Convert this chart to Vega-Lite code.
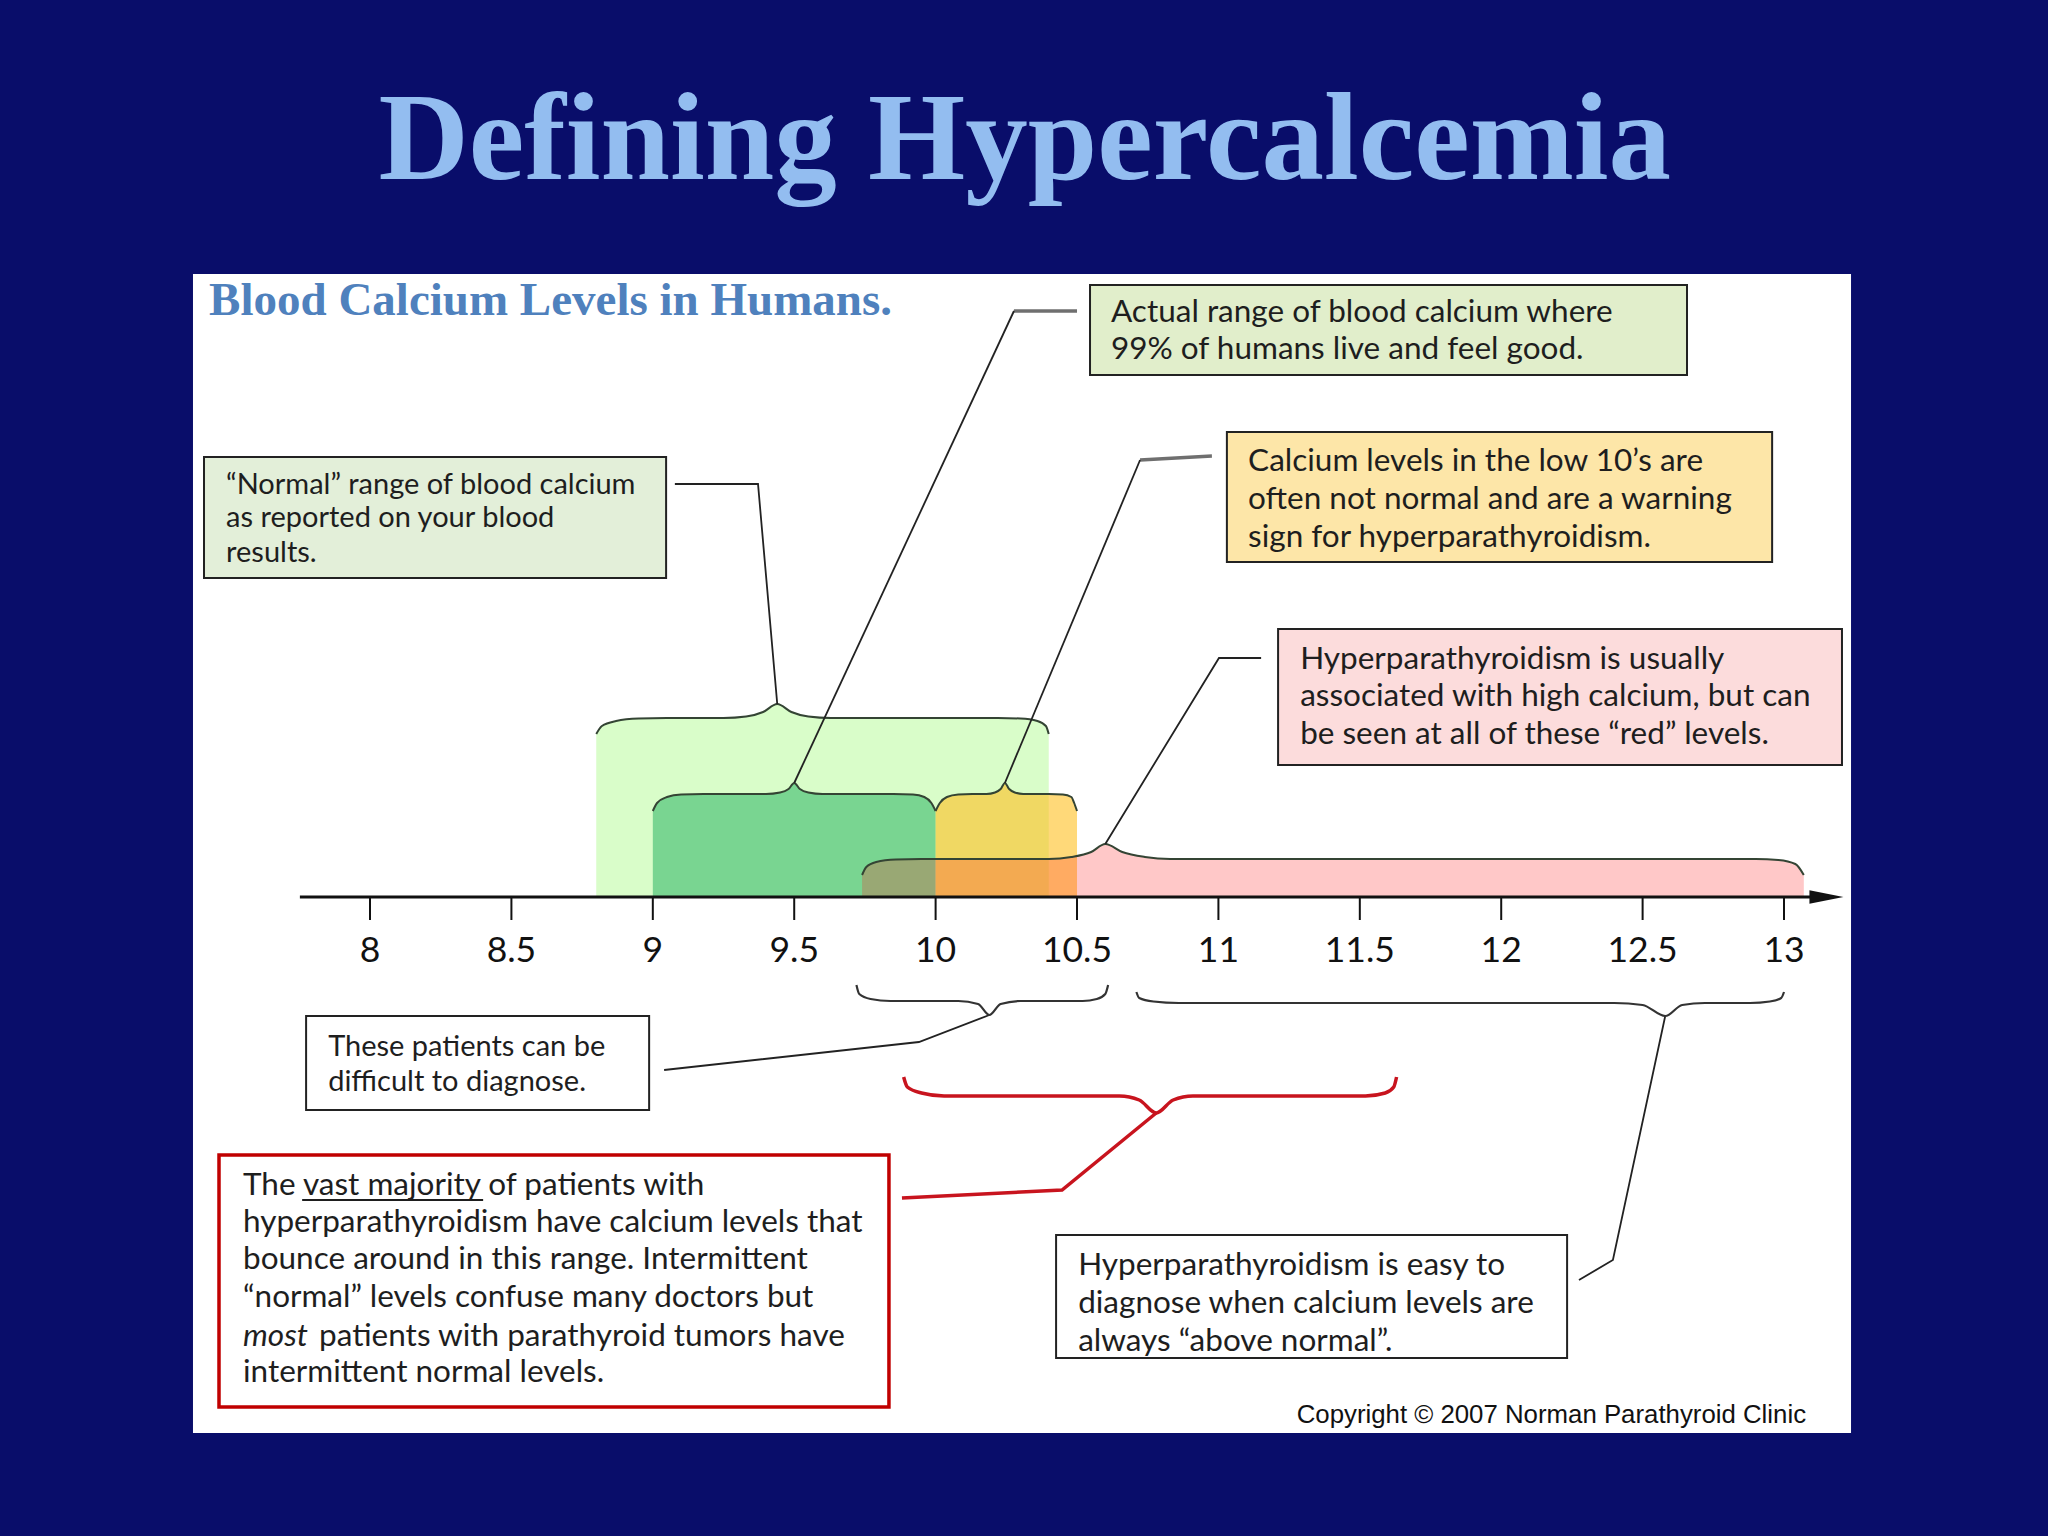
{
  "$schema": "https://vega.github.io/schema/vega-lite/v6.json",
  "width": 2048,
  "height": 1536,
  "padding": 0,
  "autosize": {"type": "none"},
  "background": "#090d6a",
  "config": {"view": {"stroke": null}, "font": "Lato"},
  "datasets": {
    "bands": [
      {"band": "LG", "v": 8.80, "u": 16.3}, {"band": "LG", "v": 8.82, "u": 17.1}, {"band": "LG", "v": 8.87, "u": 17.6}, {"band": "LG", "v": 8.95, "u": 17.85}, {"band": "LG", "v": 9.05, "u": 17.9}, {"band": "LG", "v": 9.25, "u": 17.9}, {"band": "LG", "v": 9.33, "u": 18.05}, {"band": "LG", "v": 9.39, "u": 18.5}, {"band": "LG", "v": 9.44, "u": 19.3}, {"band": "LG", "v": 9.49, "u": 18.5}, {"band": "LG", "v": 9.55, "u": 18.05}, {"band": "LG", "v": 9.63, "u": 17.9}, {"band": "LG", "v": 10.22, "u": 17.9}, {"band": "LG", "v": 10.30, "u": 17.85}, {"band": "LG", "v": 10.36, "u": 17.6}, {"band": "LG", "v": 10.39, "u": 17.1}, {"band": "LG", "v": 10.40, "u": 16.3},
      {"band": "DG", "v": 9.00, "u": 8.6}, {"band": "DG", "v": 9.015, "u": 9.4}, {"band": "DG", "v": 9.05, "u": 10.0}, {"band": "DG", "v": 9.10, "u": 10.25}, {"band": "DG", "v": 9.18, "u": 10.3}, {"band": "DG", "v": 9.40, "u": 10.3}, {"band": "DG", "v": 9.45, "u": 10.45}, {"band": "DG", "v": 9.48, "u": 10.8}, {"band": "DG", "v": 9.50, "u": 11.4}, {"band": "DG", "v": 9.52, "u": 10.8}, {"band": "DG", "v": 9.55, "u": 10.45}, {"band": "DG", "v": 9.60, "u": 10.3}, {"band": "DG", "v": 9.85, "u": 10.3}, {"band": "DG", "v": 9.92, "u": 10.25}, {"band": "DG", "v": 9.96, "u": 10.0}, {"band": "DG", "v": 9.985, "u": 9.4}, {"band": "DG", "v": 10.00, "u": 8.6},
      {"band": "Y", "v": 10.00, "u": 8.6}, {"band": "Y", "v": 10.015, "u": 9.4}, {"band": "Y", "v": 10.04, "u": 10.0}, {"band": "Y", "v": 10.08, "u": 10.25}, {"band": "Y", "v": 10.13, "u": 10.3}, {"band": "Y", "v": 10.18, "u": 10.3}, {"band": "Y", "v": 10.21, "u": 10.45}, {"band": "Y", "v": 10.23, "u": 10.8}, {"band": "Y", "v": 10.245, "u": 11.4}, {"band": "Y", "v": 10.26, "u": 10.8}, {"band": "Y", "v": 10.28, "u": 10.45}, {"band": "Y", "v": 10.31, "u": 10.3}, {"band": "Y", "v": 10.40, "u": 10.3}, {"band": "Y", "v": 10.45, "u": 10.25}, {"band": "Y", "v": 10.48, "u": 10.0}, {"band": "Y", "v": 10.49, "u": 9.4}, {"band": "Y", "v": 10.50, "u": 8.6},
      {"band": "P", "v": 9.74, "u": 2.2}, {"band": "P", "v": 9.755, "u": 3.0}, {"band": "P", "v": 9.79, "u": 3.5}, {"band": "P", "v": 9.86, "u": 3.75}, {"band": "P", "v": 9.95, "u": 3.8}, {"band": "P", "v": 10.40, "u": 3.8}, {"band": "P", "v": 10.48, "u": 4.0}, {"band": "P", "v": 10.55, "u": 4.5}, {"band": "P", "v": 10.60, "u": 5.3}, {"band": "P", "v": 10.66, "u": 4.5}, {"band": "P", "v": 10.74, "u": 4.0}, {"band": "P", "v": 10.83, "u": 3.8}, {"band": "P", "v": 12.90, "u": 3.8}, {"band": "P", "v": 12.98, "u": 3.7}, {"band": "P", "v": 13.04, "u": 3.3}, {"band": "P", "v": 13.07, "u": 2.2}
    ],
    "paths": [
      {"path": "L1", "kind": "leader", "i": 1, "v": 9.078, "u": 41.3}, {"path": "L1", "kind": "leader", "i": 2, "v": 9.372, "u": 41.3}, {"path": "L1", "kind": "leader", "i": 3, "v": 9.44, "u": 19.3},
      {"path": "L2", "kind": "leader", "i": 1, "v": 10.277, "u": 58.6}, {"path": "L2", "kind": "leader", "i": 2, "v": 9.50, "u": 11.4},
      {"path": "S2", "kind": "stub", "i": 1, "v": 10.50, "u": 58.6}, {"path": "S2", "kind": "stub", "i": 2, "v": 10.277, "u": 58.6},
      {"path": "L3", "kind": "leader", "i": 1, "v": 10.723, "u": 43.7}, {"path": "L3", "kind": "leader", "i": 2, "v": 10.245, "u": 11.4},
      {"path": "S3", "kind": "stub", "i": 1, "v": 10.977, "u": 44.1}, {"path": "S3", "kind": "stub", "i": 2, "v": 10.723, "u": 43.7},
      {"path": "L4", "kind": "leader", "i": 1, "v": 11.151, "u": 23.9}, {"path": "L4", "kind": "leader", "i": 2, "v": 11.002, "u": 23.9}, {"path": "L4", "kind": "leader", "i": 3, "v": 10.60, "u": 5.3},
      {"path": "L5", "kind": "leader", "i": 1, "v": 10.19, "u": -11.8}, {"path": "L5", "kind": "leader", "i": 2, "v": 9.941, "u": -14.5}, {"path": "L5", "kind": "leader", "i": 3, "v": 9.040, "u": -17.3},
      {"path": "L6", "kind": "leader", "i": 1, "v": 12.58, "u": -11.9}, {"path": "L6", "kind": "leader", "i": 2, "v": 12.395, "u": -36.3}, {"path": "L6", "kind": "leader", "i": 3, "v": 12.275, "u": -38.3},
      {"path": "B1", "kind": "bracket", "i": 1, "v": 9.72, "u": -8.8}, {"path": "B1", "kind": "bracket", "i": 2, "v": 9.73, "u": -9.7}, {"path": "B1", "kind": "bracket", "i": 3, "v": 9.77, "u": -10.2}, {"path": "B1", "kind": "bracket", "i": 4, "v": 9.84, "u": -10.4}, {"path": "B1", "kind": "bracket", "i": 5, "v": 10.08, "u": -10.4}, {"path": "B1", "kind": "bracket", "i": 6, "v": 10.15, "u": -10.7}, {"path": "B1", "kind": "bracket", "i": 7, "v": 10.19, "u": -11.8}, {"path": "B1", "kind": "bracket", "i": 8, "v": 10.23, "u": -10.7}, {"path": "B1", "kind": "bracket", "i": 9, "v": 10.30, "u": -10.4}, {"path": "B1", "kind": "bracket", "i": 10, "v": 10.52, "u": -10.4}, {"path": "B1", "kind": "bracket", "i": 11, "v": 10.57, "u": -10.2}, {"path": "B1", "kind": "bracket", "i": 12, "v": 10.60, "u": -9.7}, {"path": "B1", "kind": "bracket", "i": 13, "v": 10.61, "u": -8.8},
      {"path": "B2", "kind": "bracket", "i": 1, "v": 10.71, "u": -9.5}, {"path": "B2", "kind": "bracket", "i": 2, "v": 10.72, "u": -10.1}, {"path": "B2", "kind": "bracket", "i": 3, "v": 10.77, "u": -10.45}, {"path": "B2", "kind": "bracket", "i": 4, "v": 10.86, "u": -10.6}, {"path": "B2", "kind": "bracket", "i": 5, "v": 12.40, "u": -10.6}, {"path": "B2", "kind": "bracket", "i": 6, "v": 12.50, "u": -10.8}, {"path": "B2", "kind": "bracket", "i": 7, "v": 12.58, "u": -11.9}, {"path": "B2", "kind": "bracket", "i": 8, "v": 12.64, "u": -10.8}, {"path": "B2", "kind": "bracket", "i": 9, "v": 12.72, "u": -10.6}, {"path": "B2", "kind": "bracket", "i": 10, "v": 12.88, "u": -10.6}, {"path": "B2", "kind": "bracket", "i": 11, "v": 12.95, "u": -10.45}, {"path": "B2", "kind": "bracket", "i": 12, "v": 12.99, "u": -10.1}, {"path": "B2", "kind": "bracket", "i": 13, "v": 13.00, "u": -9.5},
      {"path": "R1", "kind": "redbracket", "i": 1, "v": 9.887, "u": -18.0}, {"path": "R1", "kind": "redbracket", "i": 2, "v": 9.90, "u": -19.0}, {"path": "R1", "kind": "redbracket", "i": 3, "v": 9.95, "u": -19.6}, {"path": "R1", "kind": "redbracket", "i": 4, "v": 10.03, "u": -19.9}, {"path": "R1", "kind": "redbracket", "i": 5, "v": 10.65, "u": -19.9}, {"path": "R1", "kind": "redbracket", "i": 6, "v": 10.72, "u": -20.3}, {"path": "R1", "kind": "redbracket", "i": 7, "v": 10.78, "u": -21.6}, {"path": "R1", "kind": "redbracket", "i": 8, "v": 10.84, "u": -20.3}, {"path": "R1", "kind": "redbracket", "i": 9, "v": 10.91, "u": -19.9}, {"path": "R1", "kind": "redbracket", "i": 10, "v": 11.52, "u": -19.9}, {"path": "R1", "kind": "redbracket", "i": 11, "v": 11.59, "u": -19.6}, {"path": "R1", "kind": "redbracket", "i": 12, "v": 11.62, "u": -19.0}, {"path": "R1", "kind": "redbracket", "i": 13, "v": 11.63, "u": -18.0},
      {"path": "R2", "kind": "redleader", "i": 1, "v": 10.78, "u": -21.6}, {"path": "R2", "kind": "redleader", "i": 2, "v": 10.447, "u": -29.3}, {"path": "R2", "kind": "redleader", "i": 3, "v": 9.881, "u": -30.1}
    ],
    "boxes": [
      {"box": "A", "v": 10.546, "v2": 12.657, "u": 61.2, "u2": 52.2},
      {"box": "B", "v": 11.030, "v2": 12.958, "u": 46.5, "u2": 33.5},
      {"box": "C", "v": 7.413, "v2": 9.047, "u": 44.0, "u2": 31.9},
      {"box": "D", "v": 11.211, "v2": 13.205, "u": 26.8, "u2": 13.2},
      {"box": "E", "v": 7.774, "v2": 8.987, "u": -11.9, "u2": -21.3},
      {"box": "G", "v": 10.426, "v2": 12.233, "u": -33.8, "u2": -46.1}
    ],
    "lines": [
      {"box": "A", "text": "Actual range of blood calcium where", "v": 10.620, "u": 58.4},
      {"box": "A", "text": "99% of humans live and feel good.", "v": 10.620, "u": 54.7},
      {"box": "B", "text": "Calcium levels in the low 10’s are", "v": 11.105, "u": 43.5},
      {"box": "B", "text": "often not normal and are a warning", "v": 11.105, "u": 39.7},
      {"box": "B", "text": "sign for hyperparathyroidism.", "v": 11.105, "u": 35.9},
      {"box": "C", "text": "“Normal” range of blood calcium", "v": 7.491, "u": 41.2},
      {"box": "C", "text": "as reported on your blood", "v": 7.491, "u": 37.9},
      {"box": "C", "text": "results.", "v": 7.491, "u": 34.4},
      {"box": "D", "text": "Hyperparathyroidism is usually", "v": 11.289, "u": 23.7},
      {"box": "D", "text": "associated with high calcium, but can", "v": 11.289, "u": 20.0},
      {"box": "D", "text": "be seen at all of these “red” levels.", "v": 11.289, "u": 16.2},
      {"box": "E", "text": "These patients can be", "v": 7.852, "u": -15.0},
      {"box": "E", "text": "difficult to diagnose.", "v": 7.852, "u": -18.5},
      {"box": "F", "text": "The vast majority of patients with", "v": 7.551, "u": -28.9},
      {"box": "F", "text": "hyperparathyroidism have calcium levels that", "v": 7.551, "u": -32.6},
      {"box": "F", "text": "bounce around in this range. Intermittent", "v": 7.551, "u": -36.3},
      {"box": "F", "text": "“normal” levels confuse many doctors but", "v": 7.551, "u": -40.1},
      {"box": "F", "text": "patients with parathyroid tumors have", "v": 7.820, "u": -44.0},
      {"box": "F", "text": "intermittent normal levels.", "v": 7.551, "u": -47.6},
      {"box": "G", "text": "Hyperparathyroidism is easy to", "v": 10.504, "u": -36.9},
      {"box": "G", "text": "diagnose when calcium levels are", "v": 10.504, "u": -40.7},
      {"box": "G", "text": "always “above normal”.", "v": 10.504, "u": -44.5}
    ],
    "ticks": [
      {"v": 8, "label": "8"}, {"v": 8.5, "label": "8.5"}, {"v": 9, "label": "9"}, {"v": 9.5, "label": "9.5"},
      {"v": 10, "label": "10"}, {"v": 10.5, "label": "10.5"}, {"v": 11, "label": "11"}, {"v": 11.5, "label": "11.5"},
      {"v": 12, "label": "12"}, {"v": 12.5, "label": "12.5"}, {"v": 13, "label": "13"}
    ]
  },
  "encoding": {
    "x": {"field": "v", "type": "quantitative", "scale": {"domain": [6.6916, 13.9335], "nice": false, "zero": false}, "axis": null}
  },
  "layer": [
    {
      "data": {"values": [{"v": 7.374, "v2": 13.237, "u": 62.3, "u2": -53.6}]},
      "mark": {"type": "rect", "color": "#ffffff"},
      "encoding": {
        "y": {"field": "u", "type": "quantitative", "scale": {"domain": [-63.9, 89.7], "nice": false, "zero": false}, "axis": null},
        "x2": {"field": "v2"}, "y2": {"field": "u2"}
      }
    },
    {
      "data": {"values": [{"text": "Defining Hypercalcemia", "v": 10.315, "u": 71.8}]},
      "mark": {"type": "text", "font": "Liberation Serif", "fontWeight": "bold", "fontSize": 125, "color": "#93bdf0", "align": "center", "baseline": "alphabetic"},
      "encoding": {
        "y": {"field": "u", "type": "quantitative", "scale": {"domain": [-63.9, 89.7], "nice": false, "zero": false}, "axis": null},
        "text": {"field": "text"}
      }
    },
    {
      "data": {"values": [{"text": "Blood Calcium Levels in Humans.", "v": 7.431, "u": 58.2}]},
      "mark": {"type": "text", "font": "Liberation Serif", "fontWeight": "bold", "fontSize": 47, "color": "#4f81bd", "align": "left", "baseline": "alphabetic"},
      "encoding": {
        "y": {"field": "u", "type": "quantitative", "scale": {"domain": [-63.9, 89.7], "nice": false, "zero": false}, "axis": null},
        "text": {"field": "text"}
      }
    },
    {
      "data": {"name": "boxes"},
      "mark": {"type": "rect", "stroke": "#222222", "strokeWidth": 2},
      "encoding": {
        "y": {"field": "u", "type": "quantitative", "scale": {"domain": [-63.9, 89.7], "nice": false, "zero": false}, "axis": null},
        "x2": {"field": "v2"}, "y2": {"field": "u2"},
        "fill": {"field": "box", "type": "nominal", "legend": null, "scale": {"domain": ["A", "B", "C", "D", "E", "G"], "range": ["#e1eecb", "#fde6a8", "#e3efd9", "#fcdcdc", "#ffffff", "#ffffff"]}}
      }
    },
    {
      "data": {"values": [{"v": 7.466, "v2": 9.835, "u": -25.8, "u2": -51.0}]},
      "mark": {"type": "rect", "fill": "#ffffff", "stroke": "#c00000", "strokeWidth": 3.5},
      "encoding": {
        "y": {"field": "u", "type": "quantitative", "scale": {"domain": [-63.9, 89.7], "nice": false, "zero": false}, "axis": null},
        "x2": {"field": "v2"}, "y2": {"field": "u2"}
      }
    },
    {
      "data": {"name": "lines"},
      "transform": [{"filter": "datum.box !== 'C' && datum.box !== 'E'"}],
      "mark": {"type": "text", "font": "Lato", "fontSize": 31.5, "color": "#1e1e1e", "align": "left", "baseline": "middle"},
      "encoding": {
        "y": {"field": "u", "type": "quantitative", "scale": {"domain": [-63.9, 89.7], "nice": false, "zero": false}, "axis": null},
        "text": {"field": "text"}
      }
    },
    {
      "data": {"name": "lines"},
      "transform": [{"filter": "datum.box === 'C' || datum.box === 'E'"}],
      "mark": {"type": "text", "font": "Lato", "fontSize": 29, "color": "#1e1e1e", "align": "left", "baseline": "middle"},
      "encoding": {
        "y": {"field": "u", "type": "quantitative", "scale": {"domain": [-63.9, 89.7], "nice": false, "zero": false}, "axis": null},
        "text": {"field": "text"}
      }
    },
    {
      "data": {"values": [{"text": "most", "v": 7.551, "u": -44.0}]},
      "mark": {"type": "text", "font": "Lato", "fontStyle": "italic", "fontSize": 31.5, "color": "#1e1e1e", "align": "left", "baseline": "middle"},
      "encoding": {
        "y": {"field": "u", "type": "quantitative", "scale": {"domain": [-63.9, 89.7], "nice": false, "zero": false}, "axis": null},
        "text": {"field": "text"}
      }
    },
    {
      "data": {"values": [{"v": 7.76, "v2": 8.40, "u": -30.3}]},
      "mark": {"type": "rule", "color": "#1e1e1e", "strokeWidth": 1.8},
      "encoding": {
        "y": {"field": "u", "type": "quantitative", "scale": {"domain": [-63.9, 89.7], "nice": false, "zero": false}, "axis": null},
        "x2": {"field": "v2"}
      }
    },
    {
      "data": {"name": "bands"},
      "transform": [{"filter": "datum.band === 'LG'"}],
      "mark": {"type": "area", "color": "#d9fdc9", "opacity": 1, "interpolate": "monotone"},
      "encoding": {
        "y": {"field": "u", "type": "quantitative", "scale": {"domain": [-63.9, 89.7], "nice": false, "zero": false}, "axis": null},
        "y2": {"datum": 0}
      }
    },
    {
      "data": {"name": "bands"},
      "transform": [{"filter": "datum.band === 'DG'"}],
      "mark": {"type": "area", "color": "#79d591", "opacity": 1, "interpolate": "monotone"},
      "encoding": {
        "y": {"field": "u", "type": "quantitative", "scale": {"domain": [-63.9, 89.7], "nice": false, "zero": false}, "axis": null},
        "y2": {"datum": 0}
      }
    },
    {
      "data": {"name": "bands"},
      "transform": [{"filter": "datum.band === 'Y'"}],
      "mark": {"type": "area", "color": "#ffbf1f", "opacity": 0.6, "interpolate": "monotone"},
      "encoding": {
        "y": {"field": "u", "type": "quantitative", "scale": {"domain": [-63.9, 89.7], "nice": false, "zero": false}, "axis": null},
        "y2": {"datum": 0}
      }
    },
    {
      "data": {"name": "bands"},
      "transform": [{"filter": "datum.band === 'P'"}],
      "mark": {"type": "area", "color": "#ff1818", "opacity": 0.24, "interpolate": "monotone"},
      "encoding": {
        "y": {"field": "u", "type": "quantitative", "scale": {"domain": [-63.9, 89.7], "nice": false, "zero": false}, "axis": null},
        "y2": {"datum": 0}
      }
    },
    {
      "data": {"name": "bands"},
      "mark": {"type": "line", "color": "#344434", "strokeWidth": 2, "interpolate": "monotone"},
      "encoding": {
        "y": {"field": "u", "type": "quantitative", "scale": {"domain": [-63.9, 89.7], "nice": false, "zero": false}, "axis": null},
        "detail": {"field": "band"}
      }
    },
    {
      "data": {"name": "paths"},
      "transform": [{"filter": "datum.kind === 'stub'"}],
      "mark": {"type": "line", "color": "#6f6f6f", "strokeWidth": 3.5},
      "encoding": {
        "y": {"field": "u", "type": "quantitative", "scale": {"domain": [-63.9, 89.7], "nice": false, "zero": false}, "axis": null},
        "detail": {"field": "path"}, "order": {"field": "i", "type": "quantitative"}
      }
    },
    {
      "data": {"name": "paths"},
      "transform": [{"filter": "datum.kind === 'leader'"}],
      "mark": {"type": "line", "color": "#222222", "strokeWidth": 1.8},
      "encoding": {
        "y": {"field": "u", "type": "quantitative", "scale": {"domain": [-63.9, 89.7], "nice": false, "zero": false}, "axis": null},
        "detail": {"field": "path"}, "order": {"field": "i", "type": "quantitative"}
      }
    },
    {
      "data": {"name": "paths"},
      "transform": [{"filter": "datum.kind === 'bracket'"}],
      "mark": {"type": "line", "color": "#333333", "strokeWidth": 2.2, "interpolate": "monotone"},
      "encoding": {
        "y": {"field": "u", "type": "quantitative", "scale": {"domain": [-63.9, 89.7], "nice": false, "zero": false}, "axis": null},
        "detail": {"field": "path"}, "order": {"field": "i", "type": "quantitative"}
      }
    },
    {
      "data": {"name": "paths"},
      "transform": [{"filter": "datum.kind === 'redbracket'"}],
      "mark": {"type": "line", "color": "#c8141e", "strokeWidth": 3.5, "interpolate": "monotone"},
      "encoding": {
        "y": {"field": "u", "type": "quantitative", "scale": {"domain": [-63.9, 89.7], "nice": false, "zero": false}, "axis": null},
        "detail": {"field": "path"}, "order": {"field": "i", "type": "quantitative"}
      }
    },
    {
      "data": {"name": "paths"},
      "transform": [{"filter": "datum.kind === 'redleader'"}],
      "mark": {"type": "line", "color": "#c8141e", "strokeWidth": 3.5},
      "encoding": {
        "y": {"field": "u", "type": "quantitative", "scale": {"domain": [-63.9, 89.7], "nice": false, "zero": false}, "axis": null},
        "detail": {"field": "path"}, "order": {"field": "i", "type": "quantitative"}
      }
    },
    {
      "data": {"values": [{"v": 7.752, "v2": 13.15, "u": 0}]},
      "mark": {"type": "rule", "color": "#111111", "strokeWidth": 3},
      "encoding": {
        "y": {"field": "u", "type": "quantitative", "scale": {"domain": [-63.9, 89.7], "nice": false, "zero": false}, "axis": null},
        "x2": {"field": "v2"}
      }
    },
    {
      "data": {"name": "ticks"},
      "mark": {"type": "rule", "color": "#111111", "strokeWidth": 2},
      "encoding": {
        "y": {"datum": 0, "type": "quantitative", "scale": {"domain": [-63.9, 89.7], "nice": false, "zero": false}, "axis": null},
        "y2": {"datum": -2.3}
      }
    },
    {
      "data": {"name": "ticks"},
      "mark": {"type": "text", "font": "Lato", "fontSize": 35.5, "color": "#111111", "align": "center", "baseline": "middle"},
      "encoding": {
        "y": {"datum": -5.4, "type": "quantitative", "scale": {"domain": [-63.9, 89.7], "nice": false, "zero": false}, "axis": null},
        "text": {"field": "label"}
      }
    },
    {
      "data": {"values": [{"v": 13.15, "u": 0}]},
      "mark": {"type": "point", "shape": "M-1,-0.4L1,0L-1,0.4Z", "filled": true, "color": "#111111", "size": 1156, "opacity": 1},
      "encoding": {
        "y": {"field": "u", "type": "quantitative", "scale": {"domain": [-63.9, 89.7], "nice": false, "zero": false}, "axis": null}
      }
    },
    {
      "data": {"values": [{"text": "Copyright © 2007 Norman Parathyroid Clinic", "v": 13.078, "u": -51.8}]},
      "mark": {"type": "text", "font": "Liberation Sans", "fontSize": 25.8, "color": "#111111", "align": "right", "baseline": "middle"},
      "encoding": {
        "y": {"field": "u", "type": "quantitative", "scale": {"domain": [-63.9, 89.7], "nice": false, "zero": false}, "axis": null},
        "text": {"field": "text"}
      }
    }
  ]
}
